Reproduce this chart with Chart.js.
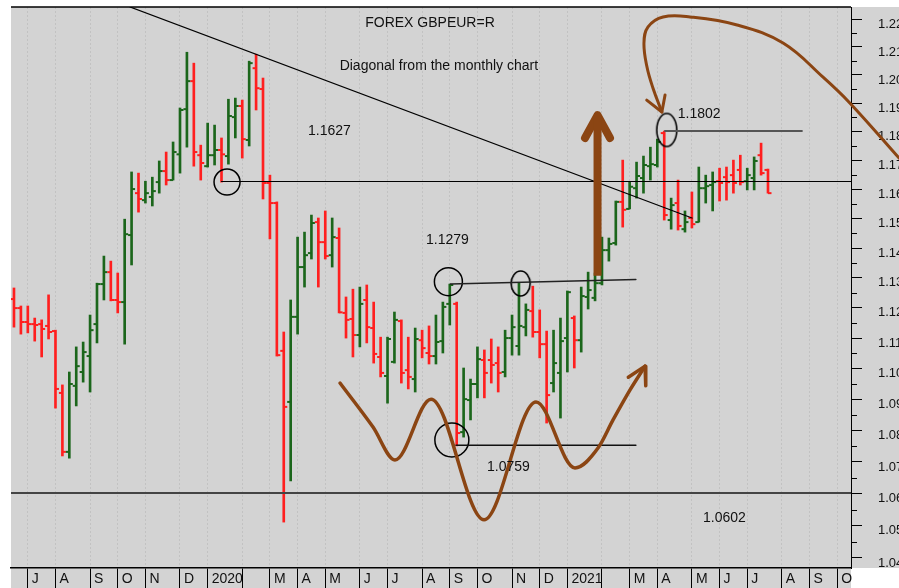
<!DOCTYPE html>
<html>
<head>
<meta charset="utf-8">
<script src="https://cdn.jsdelivr.net/npm/chart.js@4.4.0/dist/chart.umd.min.js"></script>
<style>
  html, body { margin: 0; padding: 0; background: #fff; }
  canvas { display: block; }
</style>
</head>
<body>
<canvas id="chart" width="899" height="588"></canvas>
<script>
// Weekly OHLC, GBPEUR, first bar = week of 21 Jun 2019 (index 0)
const opens = [
  1.1229, 1.1199, 1.1153, 1.1146, 1.1146, 1.1140, 1.1123, 1.0921, 1.0732, 1.0944,
  1.0989, 1.1041, 1.1146, 1.1279, 1.1319, 1.1226, 1.1219, 1.1444, 1.1587, 1.1563,
  1.1574, 1.1625, 1.1663, 1.1632, 1.1721, 1.1879, 1.1978, 1.1718, 1.1680, 1.1718,
  1.1736, 1.1715, 1.1851, 1.1890, 1.1771, 1.2024, 1.1950, 1.1622, 1.1553, 1.1058,
  1.0892, 1.1170, 1.1336, 1.1383, 1.1488, 1.1420, 1.1376, 1.1434, 1.1183, 1.1163,
  1.1110, 1.1226, 1.1133, 1.1038, 1.0976, 1.1022, 1.1156, 1.0995, 1.0966, 1.1093,
  1.1051, 1.1041, 1.1090, 1.1213, 1.1213, 1.0795, 1.0898, 1.0950, 1.1028, 1.1028,
  1.1018, 1.0989, 1.1100, 1.1074, 1.1136, 1.1189, 1.1120, 1.1080, 1.0953, 1.0986,
  1.1100, 1.1166, 1.1093, 1.1236, 1.1233, 1.1282, 1.1393, 1.1417, 1.1557, 1.1533,
  1.1604, 1.1639, 1.1680, 1.1684, 1.1795, 1.1495, 1.1553, 1.1464, 1.1502, 1.1488,
  1.1604, 1.1615, 1.1628, 1.1642, 1.1649, 1.1667, 1.1628, 1.1639, 1.1718, 1.1667
];
const highs = [
  1.1266, 1.1206, 1.1206, 1.1166, 1.1160, 1.1243, 1.1126, 1.0947, 1.0989, 1.1071,
  1.1087, 1.1176, 1.1282, 1.1373, 1.1356, 1.1316, 1.1498, 1.1660, 1.1656, 1.1628,
  1.1642, 1.1698, 1.1729, 1.1764, 1.1883, 1.2081, 1.2042, 1.1753, 1.1830, 1.1823,
  1.1778, 1.1914, 1.1918, 1.1911, 1.2049, 1.2074, 1.1989, 1.1649, 1.1557, 1.1120,
  1.1226, 1.1437, 1.1454, 1.1512, 1.1502, 1.1526, 1.1502, 1.1468, 1.1236, 1.1262,
  1.1269, 1.1276, 1.1219, 1.1103, 1.1103, 1.1186, 1.1160, 1.1103, 1.1133, 1.1126,
  1.1140, 1.1176, 1.1219, 1.1279, 1.1219, 1.1002, 1.0966, 1.1071, 1.1061, 1.1097,
  1.1071, 1.1126, 1.1176, 1.1282, 1.1213, 1.1272, 1.1193, 1.1123, 1.1126, 1.1166,
  1.1256, 1.1173, 1.1269, 1.1319, 1.1316, 1.1437, 1.1434, 1.1560, 1.1701, 1.1625,
  1.1694, 1.1715, 1.1746, 1.1774, 1.1802, 1.1570, 1.1632, 1.1526, 1.1591, 1.1677,
  1.1649, 1.1660, 1.1673, 1.1677, 1.1701, 1.1718, 1.1673, 1.1712, 1.1760, 1.1670
];
const lows = [
  1.1136, 1.1113, 1.1117, 1.1090, 1.1038, 1.1097, 1.0872, 1.0719, 1.0712, 1.0879,
  1.0956, 1.0924, 1.1084, 1.1226, 1.1223, 1.1183, 1.1080, 1.1343, 1.1522, 1.1553,
  1.1543, 1.1587, 1.1615, 1.1632, 1.1656, 1.1746, 1.1680, 1.1632, 1.1677, 1.1684,
  1.1625, 1.1687, 1.1778, 1.1708, 1.1750, 1.1876, 1.1567, 1.1431, 1.1041, 1.0511,
  1.0640, 1.1113, 1.1269, 1.1363, 1.1269, 1.1363, 1.1336, 1.1183, 1.1100, 1.1038,
  1.1071, 1.1084, 1.1018, 1.0973, 1.0888, 1.1018, 1.0953, 1.0934, 1.0924, 1.1035,
  1.1015, 1.1015, 1.1051, 1.1143, 1.0751, 1.0779, 1.0834, 1.0905, 1.0905, 1.0953,
  1.0924, 1.0973, 1.1044, 1.1044, 1.1107, 1.1103, 1.1035, 1.0824, 1.0924, 1.0840,
  1.0989, 1.1002, 1.1054, 1.1196, 1.1223, 1.1276, 1.1356, 1.1410, 1.1471, 1.1533,
  1.1570, 1.1587, 1.1632, 1.1677, 1.1495, 1.1464, 1.1461, 1.1454, 1.1468, 1.1488,
  1.1553, 1.1526, 1.1560, 1.1563, 1.1587, 1.1615, 1.1598, 1.1598, 1.1649, 1.1587
];
const closes = [
  1.1199, 1.1153, 1.1146, 1.1143, 1.1130, 1.1120, 1.0934, 1.0732, 1.0950, 1.1008,
  1.1054, 1.1126, 1.1279, 1.1319, 1.1226, 1.1219, 1.1447, 1.1601, 1.1567, 1.1587,
  1.1594, 1.1663, 1.1632, 1.1729, 1.1876, 1.1978, 1.1729, 1.1691, 1.1718, 1.1736,
  1.1721, 1.1855, 1.1890, 1.1774, 1.2042, 1.1953, 1.1622, 1.1553, 1.1044, 1.0876,
  1.1170, 1.1336, 1.1376, 1.1485, 1.1420, 1.1373, 1.1437, 1.1185, 1.1160, 1.1110,
  1.1213, 1.1136, 1.1048, 1.0986, 1.1097, 1.1160, 1.0986, 1.0973, 1.1097, 1.1067,
  1.1041, 1.1087, 1.1203, 1.1276, 1.0792, 1.0901, 1.0950, 1.1031, 1.0986, 1.1012,
  1.0986, 1.1100, 1.1136, 1.1140, 1.1193, 1.1120, 1.1080, 1.0914, 1.1018, 1.1090,
  1.1252, 1.1093, 1.1239, 1.1259, 1.1282, 1.1393, 1.1414, 1.1557, 1.1530, 1.1609,
  1.1646, 1.1684, 1.1687, 1.1764, 1.1512, 1.1546, 1.1475, 1.1488, 1.1481, 1.1604,
  1.1611, 1.1625, 1.1622, 1.1625, 1.1622, 1.1625, 1.1649, 1.1698, 1.1656, 1.1587
];

// first week of each month (bar index) and its label
const monthTicks = [2, 6, 11, 15, 19, 24, 28, 33, 37, 41, 45, 50, 54, 59, 63, 67, 72, 76,
                    80, 85, 89, 93, 98, 102, 106, 111, 115, 119];
const monthLabels = ['J', 'A', 'S', 'O', 'N', 'D', '2020', '', 'M', 'A', 'M', 'J', 'J', 'A',
                     'S', 'O', 'N', 'D', '2021', '', 'M', 'A', 'M', 'J', 'J', 'A', 'S', 'O'];
const priceTicks = [1.04, 1.05, 1.06, 1.07, 1.08, 1.09, 1.10, 1.11, 1.12, 1.13, 1.14,
                    1.15, 1.16, 1.17, 1.18, 1.19, 1.20, 1.21, 1.22];

// hand drawn annotations, in (bar index, price)
const diagonalLine = [{x: 16.77, y: 1.2244}, {x: 98.02, y: 1.1502}];
const line11627 = [{x: 30, y: 1.1627}, {x: 121, y: 1.1627}];
const line11279 = [{x: 63.1, y: 1.1279}, {x: 89.9, y: 1.1294}];
const line10759 = [{x: 63.9, y: 1.0753}, {x: 89.9, y: 1.0753}];
const line11802 = [{x: 94.1, y: 1.1802}, {x: 113.9, y: 1.1802}];
const line10602 = [{x: -0.43, y: 1.0602}, {x: 121, y: 1.0602}];
const circlePts = [{x: 30.8, y: 1.1625}, {x: 62.8, y: 1.1287}, {x: 63.3, y: 1.0770}];
const circleRadius = [13, 14, 17];
const ellipsePts = [{x: 73.25, y: 1.1281}, {x: 94.36, y: 1.1806}];
const ellipseSize = [[9.5, 12.5], [10, 16.5]];

const bigArrowShaft = [{x: 84.36, y: 1.1307}, {x: 84.36, y: 1.1858}];
const bigArrowHead = [{x: 82.55, y: 1.1778}, {x: 84.36, y: 1.1858}, {x: 86.16, y: 1.1778}];
const waveCurve = [
  {x: 47.13, y: 1.0953}, {x: 51.90, y: 1.0811}, {x: 55.08, y: 1.0706}, {x: 60.29, y: 1.0901},
  {x: 67.95, y: 1.0518}, {x: 75.47, y: 1.0892}, {x: 81.10, y: 1.0681}, {x: 84.43, y: 1.0744},
  {x: 86.60, y: 1.0834}, {x: 89.06, y: 1.0931}, {x: 91.23, y: 1.1008}
];
const waveHead = [{x: 88.81, y: 1.0972}, {x: 91.23, y: 1.1008}, {x: 91.33, y: 1.0944}];
const hookCurve = [
  {x: 127.95, y: 1.1708}, {x: 120.86, y: 1.1900}, {x: 116.96, y: 1.1992}, {x: 111.18, y: 1.2114},
  {x: 104.53, y: 1.2179}, {x: 97.73, y: 1.2208}, {x: 93.83, y: 1.2208}, {x: 91.66, y: 1.2172},
  {x: 91.07, y: 1.2114}, {x: 91.51, y: 1.2028}, {x: 92.38, y: 1.1953}, {x: 93.66, y: 1.1869}
];
const hookHead = [{x: 91.47, y: 1.1911}, {x: 93.66, y: 1.1869}, {x: 94.12, y: 1.1929}];

const notes = [
  {x: 60.14, y: 1.2187, text: 'FOREX GBPEUR=R', align: 'center'},
  {x: 61.42, y: 1.2031, text: 'Diagonal from the monthly chart', align: 'center'},
  {x: 42.5, y: 1.1803, text: '1.1627', align: 'left'},
  {x: 59.56, y: 1.1427, text: '1.1279', align: 'left'},
  {x: 95.95, y: 1.1862, text: '1.1802', align: 'left'},
  {x: 68.38, y: 1.0683, text: '1.0759', align: 'left'},
  {x: 99.6, y: 1.0524, text: '1.0602', align: 'left'}
];

const UP = '#1b661b';
const DOWN = '#ff1f1f';
const BROWN = '#8b4513';
const FONT = '"Liberation Sans", Arial, sans-serif';

const barColors = closes.map((c, i) => c >= opens[i] ? UP : DOWN);

function ellipseImage(rx, ry) {
  const c = document.createElement('canvas');
  c.width = Math.ceil(rx * 2 + 4);
  c.height = Math.ceil(ry * 2 + 4);
  const g = c.getContext('2d');
  g.strokeStyle = '#000';
  g.lineWidth = 1.6;
  g.beginPath();
  g.ellipse(c.width / 2, c.height / 2, rx, ry, 0, 0, Math.PI * 2);
  g.stroke();
  return c;
}

function annoLine(data, color, width, extra) {
  return Object.assign({
    type: 'line', data: data, borderColor: color, borderWidth: width,
    pointRadius: 0, fill: false, tension: 0, order: 1,
    borderCapStyle: 'round', borderJoinStyle: 'round'
  }, extra || {});
}

function noPad(s) {
  s.paddingLeft = 0; s.paddingRight = 0; s.paddingTop = 0; s.paddingBottom = 0;
}

const backdrop = {
  id: 'backdrop',
  beforeDraw(chart) {
    const {ctx, chartArea: a, width} = chart;
    ctx.save();
    ctx.fillStyle = '#fff';
    ctx.fillRect(0, 0, width, chart.height);
    ctx.fillStyle = '#d3d3d3';
    ctx.fillRect(a.left, a.top, width - a.left, a.bottom - a.top);
    ctx.fillRect(a.left, a.bottom, a.right - a.left, chart.height - a.bottom);
    ctx.restore();
  },
  afterDraw(chart) {
    const {ctx, chartArea: a} = chart;
    const y = chart.scales.y;
    ctx.save();
    ctx.strokeStyle = '#000';
    ctx.lineWidth = 1.5;
    ctx.beginPath();
    ctx.moveTo(a.left, a.top);
    ctx.lineTo(a.right, a.top);
    ctx.stroke();
    // minor ticks between the labelled ones
    ctx.lineWidth = 1;
    for (let i = 0; i < priceTicks.length - 1; i++) {
      const py = Math.round(y.getPixelForValue((priceTicks[i] + priceTicks[i + 1]) / 2)) + 0.5;
      ctx.beginPath();
      ctx.moveTo(a.right, py);
      ctx.lineTo(a.right + 6, py);
      ctx.stroke();
    }
    ctx.restore();
  }
};

const notesPlugin = {
  id: 'notes',
  afterDatasetsDraw(chart) {
    const {ctx, scales} = chart;
    ctx.save();
    ctx.fillStyle = '#111';
    ctx.font = '14px ' + FONT;
    ctx.textBaseline = 'middle';
    notes.forEach(n => {
      ctx.textAlign = n.align;
      ctx.fillText(n.text, scales.x.getPixelForValue(n.x), scales.y.getPixelForValue(n.y));
    });
    ctx.restore();
  }
};

new Chart(document.getElementById('chart'), {
  type: 'bar',
  data: {
    datasets: [
      annoLine(bigArrowShaft, BROWN, 8, {borderCapStyle: 'butt'}),
      annoLine(bigArrowHead, BROWN, 8),
      annoLine(waveCurve, BROWN, 3.5, {cubicInterpolationMode: 'monotone'}),
      annoLine(waveHead, BROWN, 3.5),
      annoLine(hookCurve, BROWN, 3, {tension: 0.4, capBezierPoints: false, clip: false}),
      annoLine(hookHead, BROWN, 3),
      annoLine(diagonalLine, '#000', 1.3),
      annoLine(line11627, '#000', 1.2),
      annoLine(line11279, '#222', 1.5),
      annoLine(line10759, '#111', 1.5),
      annoLine(line11802, '#555', 2),
      annoLine(line10602, '#444', 2),
      {
        type: 'line', data: circlePts, showLine: false, order: 1,
        pointStyle: 'circle', pointRadius: circleRadius,
        pointBackgroundColor: 'rgba(0,0,0,0)', pointBorderColor: '#000', pointBorderWidth: 1.5
      },
      {
        type: 'line', data: ellipsePts, showLine: false, order: 1,
        pointStyle: ellipseSize.map(s => ellipseImage(s[0], s[1])), pointRadius: 10
      },
      {
        type: 'bar', order: 20, barThickness: 2, borderWidth: 0,
        data: highs.map((h, i) => ({x: i, y: [lows[i], h]})),
        backgroundColor: barColors
      },
      {
        type: 'line', order: 19, showLine: false,
        data: opens.map((v, i) => ({x: i, y: v})),
        pointStyle: 'dash', pointRadius: 3.5, pointRotation: 180,
        pointBorderColor: barColors, pointBorderWidth: 2
      },
      {
        type: 'line', order: 19, showLine: false,
        data: closes.map((v, i) => ({x: i, y: v})),
        pointStyle: 'dash', pointRadius: 3.5,
        pointBorderColor: barColors, pointBorderWidth: 2
      }
    ]
  },
  options: {
    responsive: false,
    devicePixelRatio: 1,
    animation: false,
    events: [],
    layout: { autoPadding: false, padding: { left: 11, top: 7, right: 0, bottom: 0 } },
    plugins: { legend: { display: false }, tooltip: { enabled: false } },
    scales: {
      x: {
        type: 'linear', min: -0.43, max: 121, offset: false,
        afterBuildTicks: s => { s.ticks = monthTicks.map(v => ({value: v})); },
        afterFit: s => { s.height = 20; noPad(s); },
        ticks: {
          autoSkip: false, maxRotation: 0, align: 'start', labelOffset: 4, padding: -17,
          color: '#111', font: { family: FONT, size: 14 },
          callback: (v, i) => monthLabels[i]
        },
        grid: {
          offset: false, color: '#c2c2c2', lineWidth: 1,
          tickLength: 20, tickColor: '#000', tickWidth: 1, tickBorderDash: []
        },
        border: { color: '#000', width: 1.5, dash: [2, 2] }
      },
      y: {
        type: 'logarithmic', position: 'right', min: 1.0369, max: 1.2244, bounds: 'data',
        afterBuildTicks: s => { s.ticks = priceTicks.map(v => ({value: v})); },
        afterFit: s => { s.width = 48; noPad(s); },
        ticks: {
          autoSkip: false, padding: 16, labelOffset: 5,
          color: '#111', font: { family: FONT, size: 13 },
          callback: v => v.toFixed(2)
        },
        grid: { drawOnChartArea: false, tickLength: 11, tickColor: '#000', tickWidth: 1 },
        border: { color: '#000', width: 1 }
      }
    }
  },
  plugins: [backdrop, notesPlugin]
});
</script>
</body>
</html>
